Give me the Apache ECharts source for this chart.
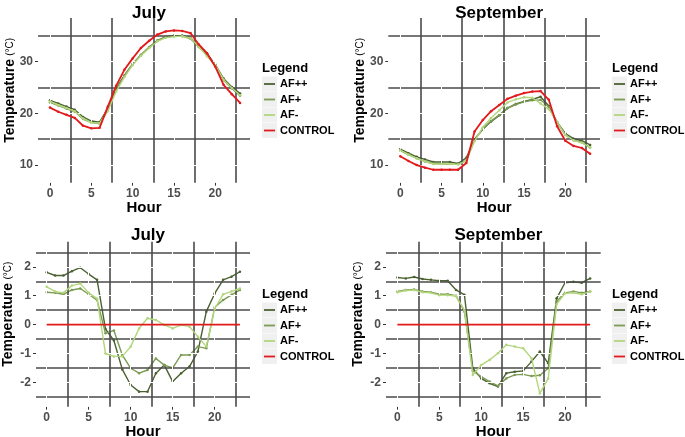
<!DOCTYPE html>
<html><head><meta charset="utf-8">
<script src="https://cdn.jsdelivr.net/npm/echarts@6/dist/echarts.min.js"></script>
<style>html,body{margin:0;padding:0;background:#fff}#c{width:685px;height:437px}</style>
</head><body><div id="c"></div>
<script>
// ---------- data ----------
const hours = [0,1,2,3,4,5,6,7,8,9,10,11,12,13,14,15,16,17,18,19,20,21,22,23];
const seriesNames = ['AF++','AF+','AF-','CONTROL'];
const xTickLabels = [0,5,10,15,20];
const topYTickLabels = [10,20,30];
const bottomYTickLabels = [-2,-1,0,1,2];

// July temperature (°C)
const julyAFpp    = [22.5,21.9,21.3,20.7,19.3,18.5,18.3,21.0,24.8,27.3,29.5,31.2,32.7,34.0,34.8,35.0,35.0,34.6,33.0,31.5,29.4,26.7,25.1,23.8];
const julyAFp     = [22.1,21.5,20.9,20.3,18.9,18.2,18.0,20.8,24.6,27.2,29.5,31.3,32.8,34.1,34.7,34.9,34.9,34.4,32.8,31.2,29.2,26.4,24.8,23.4];
const julyAFm     = [22.3,21.6,21.0,20.4,19.0,18.2,18.1,20.4,24.2,27.0,29.3,31.1,32.6,33.9,34.6,34.8,34.9,34.5,32.9,31.0,29.3,26.5,24.9,23.5];
const julyControl = [21.1,20.3,19.7,19.1,17.6,17.1,17.2,21.3,25.3,28.4,30.6,32.6,34.0,35.2,35.8,36.0,35.9,35.5,33.3,31.6,29.0,25.5,23.7,22.0];

// September temperature (°C)
const sepAFpp    = [13.1,12.3,11.6,11.1,10.6,10.6,10.6,10.3,11.4,15.0,16.9,18.4,19.6,21.0,21.8,22.3,22.7,23.2,21.4,18.3,16.1,15.1,14.7,13.9];
const sepAFp     = [12.8,12.0,11.3,10.7,10.3,10.2,10.1,10.1,10.9,14.9,17.0,18.5,19.7,21.0,21.7,22.2,22.5,22.6,21.2,18.2,15.8,14.8,14.4,13.4];
const sepAFm     = [12.9,12.0,11.3,10.7,10.2,10.2,10.2,10.1,10.8,14.6,17.3,19.1,20.6,22.1,22.7,23.1,23.0,21.9,20.8,18.3,15.8,14.8,14.3,13.4];
const sepControl = [11.7,10.8,10.0,9.5,9.1,9.1,9.1,9.1,10.4,16.5,18.7,20.4,21.6,22.8,23.4,23.9,24.2,24.3,22.6,17.5,14.7,13.7,13.3,12.2];

// July difference to control (°C)
const julyDiffAFpp    = [1.81,1.70,1.70,1.85,1.97,1.75,1.55,-0.15,-0.55,-1.55,-2.09,-2.32,-2.32,-1.68,-1.40,-1.97,-1.68,-1.45,-0.93,0.45,1.08,1.55,1.66,1.83];
const julyDiffAFp     = [1.12,1.10,1.05,1.20,1.25,1.05,0.85,-0.30,-0.20,-1.05,-1.51,-1.68,-1.57,-1.17,-1.40,-1.50,-1.05,-1.05,-0.76,-0.82,0.60,0.85,1.03,1.20];
const julyDiffAFm     = [1.31,1.15,1.10,1.35,1.42,1.10,0.90,-1.00,-1.10,-1.10,-0.76,-0.13,0.22,0.16,-0.01,-0.13,-0.01,-0.07,-0.42,-0.76,0.55,1.05,1.15,1.25];
const julyDiffControl = [0,0,0,0,0,0,0,0,0,0,0,0,0,0,0,0,0,0,0,0,0,0,0,0];

// September difference to control (°C)
const sepDiffAFpp    = [1.63,1.60,1.65,1.58,1.55,1.52,1.52,1.20,1.03,-1.51,-1.86,-2.03,-2.14,-1.68,-1.63,-1.60,-1.28,-0.93,-1.34,0.91,1.45,1.48,1.45,1.60];
const sepDiffAFp     = [1.15,1.20,1.22,1.15,1.12,1.05,1.05,1.00,0.45,-1.60,-1.80,-1.97,-2.12,-1.86,-1.74,-1.72,-1.78,-1.75,-1.51,0.80,1.10,1.15,1.10,1.15];
const sepDiffAFm     = [1.12,1.18,1.20,1.12,1.10,1.02,1.02,0.98,0.50,-1.74,-1.40,-1.22,-0.99,-0.70,-0.76,-0.82,-1.16,-2.38,-1.86,0.70,1.08,1.10,1.05,1.15];
const sepDiffControl = [0,0,0,0,0,0,0,0,0,0,0,0,0,0,0,0,0,0,0,0,0,0,0,0];

const xMinor = [2.5,7.5,12.5,17.5,22.5];
const xMajor = [0,5,10,15,20];
const topYMinor = [15,25,35];
const topYMajor = [10,20,30];
const botYMinor = [-2.5,-1.5,-0.5,0.5,1.5,2.5];
const botYMajor = [-2,-1,0,1,2];

// ---------- styling ----------
const FONT = 'Liberation Sans, Arial, Helvetica, sans-serif';
const colors = ['#4a6130','#7b9a52','#b2d67c','#e31a1c'];
const gridColor = '#4a4a4a';

const panels = [
  {title:'July', left:38, top:18, width:212, height:164.7, xmin:-1.45, xmax:24.2, ymin:6.6, ymax:38.4,
   yTicks:topYTickLabels, yMinor:topYMinor, yMajor:topYMajor, data:[julyAFpp,julyAFp,julyAFm,julyControl], titleTop:0, legX:262, legY:68},
  {title:'September', left:388.3, top:18, width:211.7, height:164.7, xmin:-1.45, xmax:24.2, ymin:6.6, ymax:38.4,
   yTicks:topYTickLabels, yMinor:topYMinor, yMajor:topYMajor, data:[sepAFpp,sepAFp,sepAFm,sepControl], titleTop:0, legX:612, legY:68},
  {title:'July', left:36, top:241.7, width:214, height:165, xmin:-1.27, xmax:24.2, ymin:-2.84, ymax:2.87,
   yTicks:bottomYTickLabels, yMinor:botYMinor, yMajor:botYMajor, data:[julyDiffAFpp,julyDiffAFp,julyDiffAFm,julyDiffControl], titleTop:222, legX:262, legY:294},
  {title:'September', left:386, top:241.7, width:214.7, height:165, xmin:-1.36, xmax:24.26, ymin:-2.84, ymax:2.87,
   yTicks:bottomYTickLabels, yMinor:botYMinor, yMajor:botYMajor, data:[sepDiffAFpp,sepDiffAFp,sepDiffAFm,sepDiffControl], titleTop:222, legX:612, legY:294}
];

const grid = [], xAxis = [], yAxis = [], series = [], title = [], graphic = [];
panels.forEach((p, i) => {
  grid.push({left:p.left, top:p.top, width:p.width, height:p.height, containLabel:false, show:false});
  xAxis.push({type:'value', gridIndex:i, min:p.xmin, max:p.xmax,
    axisLine:{show:false, onZero:false},
    axisTick:{show:true, length:3, customValues:xTickLabels, lineStyle:{color:'#333', width:1}},
    axisLabel:{show:true, customValues:xTickLabels, margin:5, color:'#4d4d4d', fontWeight:'bold', fontSize:12, fontFamily:FONT},
    splitLine:{show:false}});
  yAxis.push({type:'value', gridIndex:i, min:p.ymin, max:p.ymax,
    axisLine:{show:false, onZero:false},
    axisTick:{show:true, length:3, customValues:p.yTicks, lineStyle:{color:'#333', width:1}},
    axisLabel:{show:true, customValues:p.yTicks, margin:5, color:'#4d4d4d', fontWeight:'bold', fontSize:12, fontFamily:FONT},
    splitLine:{show:false}});
  // minor (visible) grid lines
  series.push({type:'line', xAxisIndex:i, yAxisIndex:i, data:[], silent:true, z:1,
    markLine:{silent:true, symbol:'none', animation:false, label:{show:false},
      lineStyle:{color:gridColor, width:1.6, type:'solid'},
      data: xMinor.map(v=>({xAxis:v})).concat(p.yMinor.map(v=>({yAxis:v})))}});
  // major (white) grid lines
  series.push({type:'line', xAxisIndex:i, yAxisIndex:i, data:[], silent:true, z:2,
    markLine:{silent:true, symbol:'none', animation:false, label:{show:false},
      lineStyle:{color:'#ffffff', width:1, type:'solid'},
      data: xMajor.map(v=>({xAxis:v})).concat(p.yMajor.map(v=>({yAxis:v})))}});
  p.data.forEach((arr, k) => {
    series.push({type:'line', name:seriesNames[k], xAxisIndex:i, yAxisIndex:i, z:3+k,
      data: hours.map((h, j) => [h, arr[j]]),
      showSymbol: k<3 || i<2, symbol:'circle', symbolSize:2.5,
      itemStyle:{color:colors[k]},
      lineStyle:{color:colors[k], width:k===3?1.8:1.4},
      animation:false});
  });
  const cx = p.left + p.width/2;
  title.push({text:p.title, left:cx, top:p.titleTop, textAlign:'center',
    textStyle:{fontFamily:FONT, fontWeight:'bold', fontSize:17, color:'#000'}});
  // y-axis title
  const yc = p.top + p.height/2 - 10;
  graphic.push({type:'text', x:p.left - 28, y:yc, rotation:Math.PI/2,
    style:{text:'{a|Temperature} {b|(°C)}', align:'center', verticalAlign:'middle',
      rich:{a:{fontFamily:FONT, fontWeight:'bold', fontSize:14, fill:'#000'},
            b:{fontFamily:FONT, fontSize:10, fill:'#000'}}}});
  // x-axis title
  graphic.push({type:'text', x:cx, y:p.top + p.height + 25,
    style:{text:'Hour', align:'center', verticalAlign:'middle', fontFamily:FONT, fontWeight:'bold', fontSize:15, fill:'#000'}});
  // legend
  graphic.push({type:'text', x:p.legX, y:p.legY,
    style:{text:'Legend', align:'left', verticalAlign:'middle', fontFamily:FONT, fontWeight:'bold', fontSize:13, fill:'#000'}});
  seriesNames.forEach((nm, k) => {
    const ry = p.legY + 16 + k*15.5;
    graphic.push({type:'rect', shape:{x:p.legX, y:ry-7.5, width:15, height:15}, style:{fill:'#f0f0f0'}});
    graphic.push({type:'line', shape:{x1:p.legX+2, y1:ry, x2:p.legX+13, y2:ry}, style:{stroke:colors[k], lineWidth:1.8}});
    graphic.push({type:'text', x:p.legX+18, y:ry,
      style:{text:nm, align:'left', verticalAlign:'middle', fontFamily:FONT, fontWeight:'bold', fontSize:11, fill:'#000'}});
  });
});

const chart = echarts.init(document.getElementById('c'), null, {renderer:'canvas'});
chart.setOption({animation:false, backgroundColor:'#ffffff', title, grid, xAxis, yAxis, series, graphic});
</script></body></html>
